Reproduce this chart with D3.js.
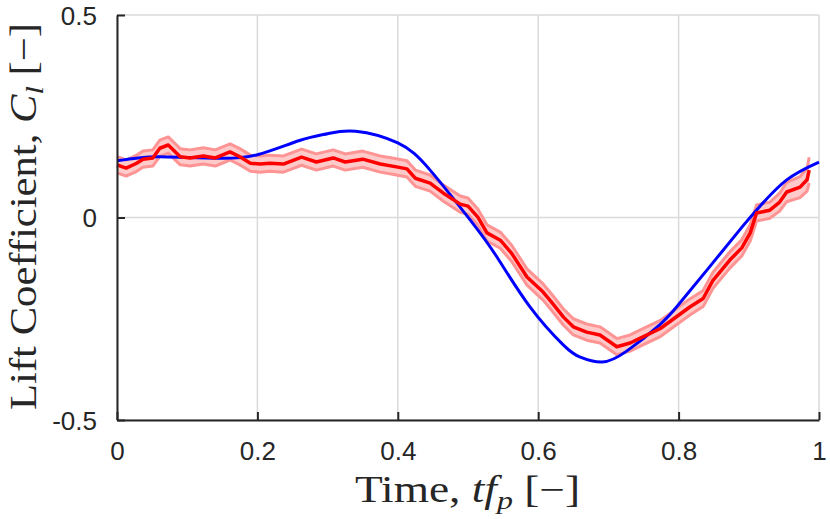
<!DOCTYPE html>
<html>
<head>
<meta charset="utf-8">
<script src="https://cdn.jsdelivr.net/npm/d3@7"></script>
<style>
  body { margin: 0; background: #fff; }
  svg { display: block; }
</style>
</head>
<body>
<svg id="chart" width="830" height="519"></svg>
<script>
const SVG_WIDTH = 830;
const SVG_HEIGHT = 519;
const margin = { top: 15, right: 11, bottom: 99, left: 117 };

// model prediction (blue)
const modelT = [0, 0.03, 0.06, 0.1, 0.15, 0.2, 0.26, 0.3, 0.34, 0.4, 0.446, 0.503, 0.541, 0.588, 0.636, 0.66, 0.691, 0.726, 0.773, 0.8, 0.845, 0.892, 0.916, 0.954, 1.0];
const modelCl = [0.14, 0.147, 0.15, 0.148, 0.146, 0.155, 0.19, 0.207, 0.213, 0.184, 0.117, -0.006, -0.097, -0.22, -0.315, -0.345, -0.357, -0.33, -0.265, -0.215, -0.12, -0.02, 0.028, 0.093, 0.137];

// measured mean (red) and its spread
const measT = [0, 0.013, 0.028, 0.037, 0.051, 0.061, 0.073, 0.09, 0.104, 0.123, 0.14, 0.161, 0.175, 0.19, 0.204, 0.218, 0.237, 0.263, 0.284, 0.308, 0.325, 0.35, 0.375, 0.398, 0.413, 0.425, 0.446, 0.465, 0.489, 0.5, 0.514, 0.527, 0.546, 0.562, 0.584, 0.607, 0.619, 0.636, 0.65, 0.669, 0.688, 0.712, 0.731, 0.75, 0.774, 0.797, 0.816, 0.835, 0.849, 0.873, 0.89, 0.902, 0.911, 0.93, 0.944, 0.954, 0.973, 0.983, 0.986];
const measCl = [0.13, 0.122, 0.134, 0.144, 0.147, 0.171, 0.179, 0.15, 0.147, 0.152, 0.147, 0.162, 0.15, 0.134, 0.132, 0.134, 0.132, 0.149, 0.137, 0.147, 0.137, 0.144, 0.132, 0.125, 0.12, 0.097, 0.085, 0.06, 0.033, 0.028, 0.001, -0.038, -0.056, -0.088, -0.147, -0.184, -0.209, -0.246, -0.27, -0.283, -0.29, -0.319, -0.31, -0.294, -0.274, -0.245, -0.221, -0.2, -0.155, -0.105, -0.075, -0.038, 0.011, 0.018, 0.038, 0.063, 0.075, 0.093, 0.117];
const measSpread = [0.02, 0.02, 0.02, 0.02, 0.02, 0.02, 0.02, 0.02, 0.02, 0.02, 0.02, 0.02, 0.02, 0.02, 0.02, 0.02, 0.02, 0.02, 0.02, 0.02, 0.02, 0.02, 0.02, 0.02, 0.02, 0.02, 0.02, 0.02, 0.02, 0.02, 0.02, 0.02, 0.02, 0.02, 0.02, 0.02, 0.02, 0.02, 0.02, 0.02, 0.02, 0.02, 0.02, 0.02, 0.02, 0.02, 0.02, 0.02, 0.02, 0.02, 0.02, 0.02, 0.02, 0.02, 0.022, 0.024, 0.026, 0.028, 0.032];

const xTicks = [0, 0.2, 0.4, 0.6, 0.8, 1];
const xTickLabels = ['0', '0.2', '0.4', '0.6', '0.8', '1'];
const yTicks = [-0.5, 0, 0.5];
const yTickLabels = ['-0.5', '0', '0.5'];

const svg = d3.select('#chart');

const xScale = d3.scaleLinear()
  .domain([0, 1])
  .range([margin.left, SVG_WIDTH - margin.right]);

const yScale = d3.scaleLinear()
  .domain([-0.5, 0.5])
  .range([SVG_HEIGHT - margin.bottom, margin.top]);

const axisColor = '#262626';

// grid
svg.append('g')
  .selectAll('line')
  .data(xTicks)
  .join('line')
  .attr('x1', d => xScale(d)).attr('x2', d => xScale(d))
  .attr('y1', yScale(-0.5)).attr('y2', yScale(0.5))
  .attr('stroke', '#dadada')
  .attr('stroke-width', 1.5);

svg.append('g')
  .selectAll('line')
  .data(yTicks)
  .join('line')
  .attr('x1', xScale(0)).attr('x2', xScale(1))
  .attr('y1', d => yScale(d)).attr('y2', d => yScale(d))
  .attr('stroke', '#dadada')
  .attr('stroke-width', 1.5);

// band
const measData = measT.map((t, i) => ({ t, y: measCl[i], lo: measCl[i] - measSpread[i], hi: measCl[i] + measSpread[i] }));

const band = d3.area()
  .x(d => xScale(d.t))
  .y0(d => yScale(d.lo))
  .y1(d => yScale(d.hi));

svg.append('path')
  .datum(measData)
  .attr('d', band)
  .attr('fill', '#ffcaca')
  .attr('stroke', 'none');

['lo', 'hi'].forEach(key => {
  svg.append('path')
    .datum(measData)
    .attr('d', d3.line().x(d => xScale(d.t)).y(d => yScale(d[key])))
    .attr('fill', 'none')
    .attr('stroke', '#ff9494')
    .attr('stroke-width', 3)
    .attr('stroke-linejoin', 'round');
});

// model line
const modelData = modelT.map((t, i) => ({ t, y: modelCl[i] }));
svg.append('path')
  .datum(modelData)
  .attr('d', d3.line().x(d => xScale(d.t)).y(d => yScale(d.y)).curve(d3.curveNatural))
  .attr('fill', 'none')
  .attr('stroke', '#0000ff')
  .attr('stroke-width', 3);

// measured mean
svg.append('path')
  .datum(measData)
  .attr('d', d3.line().x(d => xScale(d.t)).y(d => yScale(d.y)))
  .attr('fill', 'none')
  .attr('stroke', '#ff0000')
  .attr('stroke-width', 3.5)
  .attr('stroke-linejoin', 'round');

// axes (ticks pointing inward)
const xAxis = d3.axisBottom(xScale)
  .tickValues(xTicks)
  .tickFormat((d, i) => xTickLabels[i])
  .tickSizeInner(-8)
  .tickSizeOuter(0)
  .tickPadding(22);

const yAxis = d3.axisLeft(yScale)
  .tickValues(yTicks)
  .tickFormat((d, i) => yTickLabels[i])
  .tickSizeInner(-8)
  .tickSizeOuter(0)
  .tickPadding(20);

const gx = svg.append('g')
  .attr('transform', `translate(0,${yScale(-0.5)})`)
  .call(xAxis);

const gy = svg.append('g')
  .attr('transform', `translate(${xScale(0)},0)`)
  .call(yAxis);

[gx, gy].forEach(g => {
  g.select('.domain').attr('stroke', axisColor).attr('stroke-width', 2);
  g.selectAll('.tick line').attr('stroke', axisColor).attr('stroke-width', 2);
  g.selectAll('.tick text')
    .attr('fill', axisColor)
    .style('font-family', '"Liberation Sans", Arial, sans-serif')
    .style('font-size', '26px');
});
gy.selectAll('.tick text').attr('dy', '0.36em');

// axis titles
const titleFont = '"Liberation Serif", "DejaVu Serif", serif';

const xTitle = svg.append('text')
  .attr('x', 355)
  .attr('y', 502)
  .attr('textLength', 225)
  .attr('lengthAdjust', 'spacingAndGlyphs')
  .style('font-family', titleFont)
  .style('font-size', '37px')
  .attr('fill', axisColor);
xTitle.append('tspan').text('Time, ');
xTitle.append('tspan').style('font-style', 'italic').text('tf');
xTitle.append('tspan').style('font-style', 'italic').style('font-size', '26px').attr('dy', 7).text('p');
xTitle.append('tspan').attr('dy', -7).text(' [\u2212]');

const yTitle = svg.append('text')
  .attr('transform', 'translate(36,410) rotate(-90)')
  .attr('textLength', 387)
  .attr('lengthAdjust', 'spacingAndGlyphs')
  .style('font-family', titleFont)
  .style('font-size', '37px')
  .attr('fill', axisColor);
yTitle.append('tspan').text('Lift Coefficient, ');
yTitle.append('tspan').style('font-style', 'italic').text('C');
yTitle.append('tspan').style('font-style', 'italic').style('font-size', '26px').attr('dy', 7).text('l');
yTitle.append('tspan').attr('dy', -7).text(' [\u2212]');
</script>
</body>
</html>
